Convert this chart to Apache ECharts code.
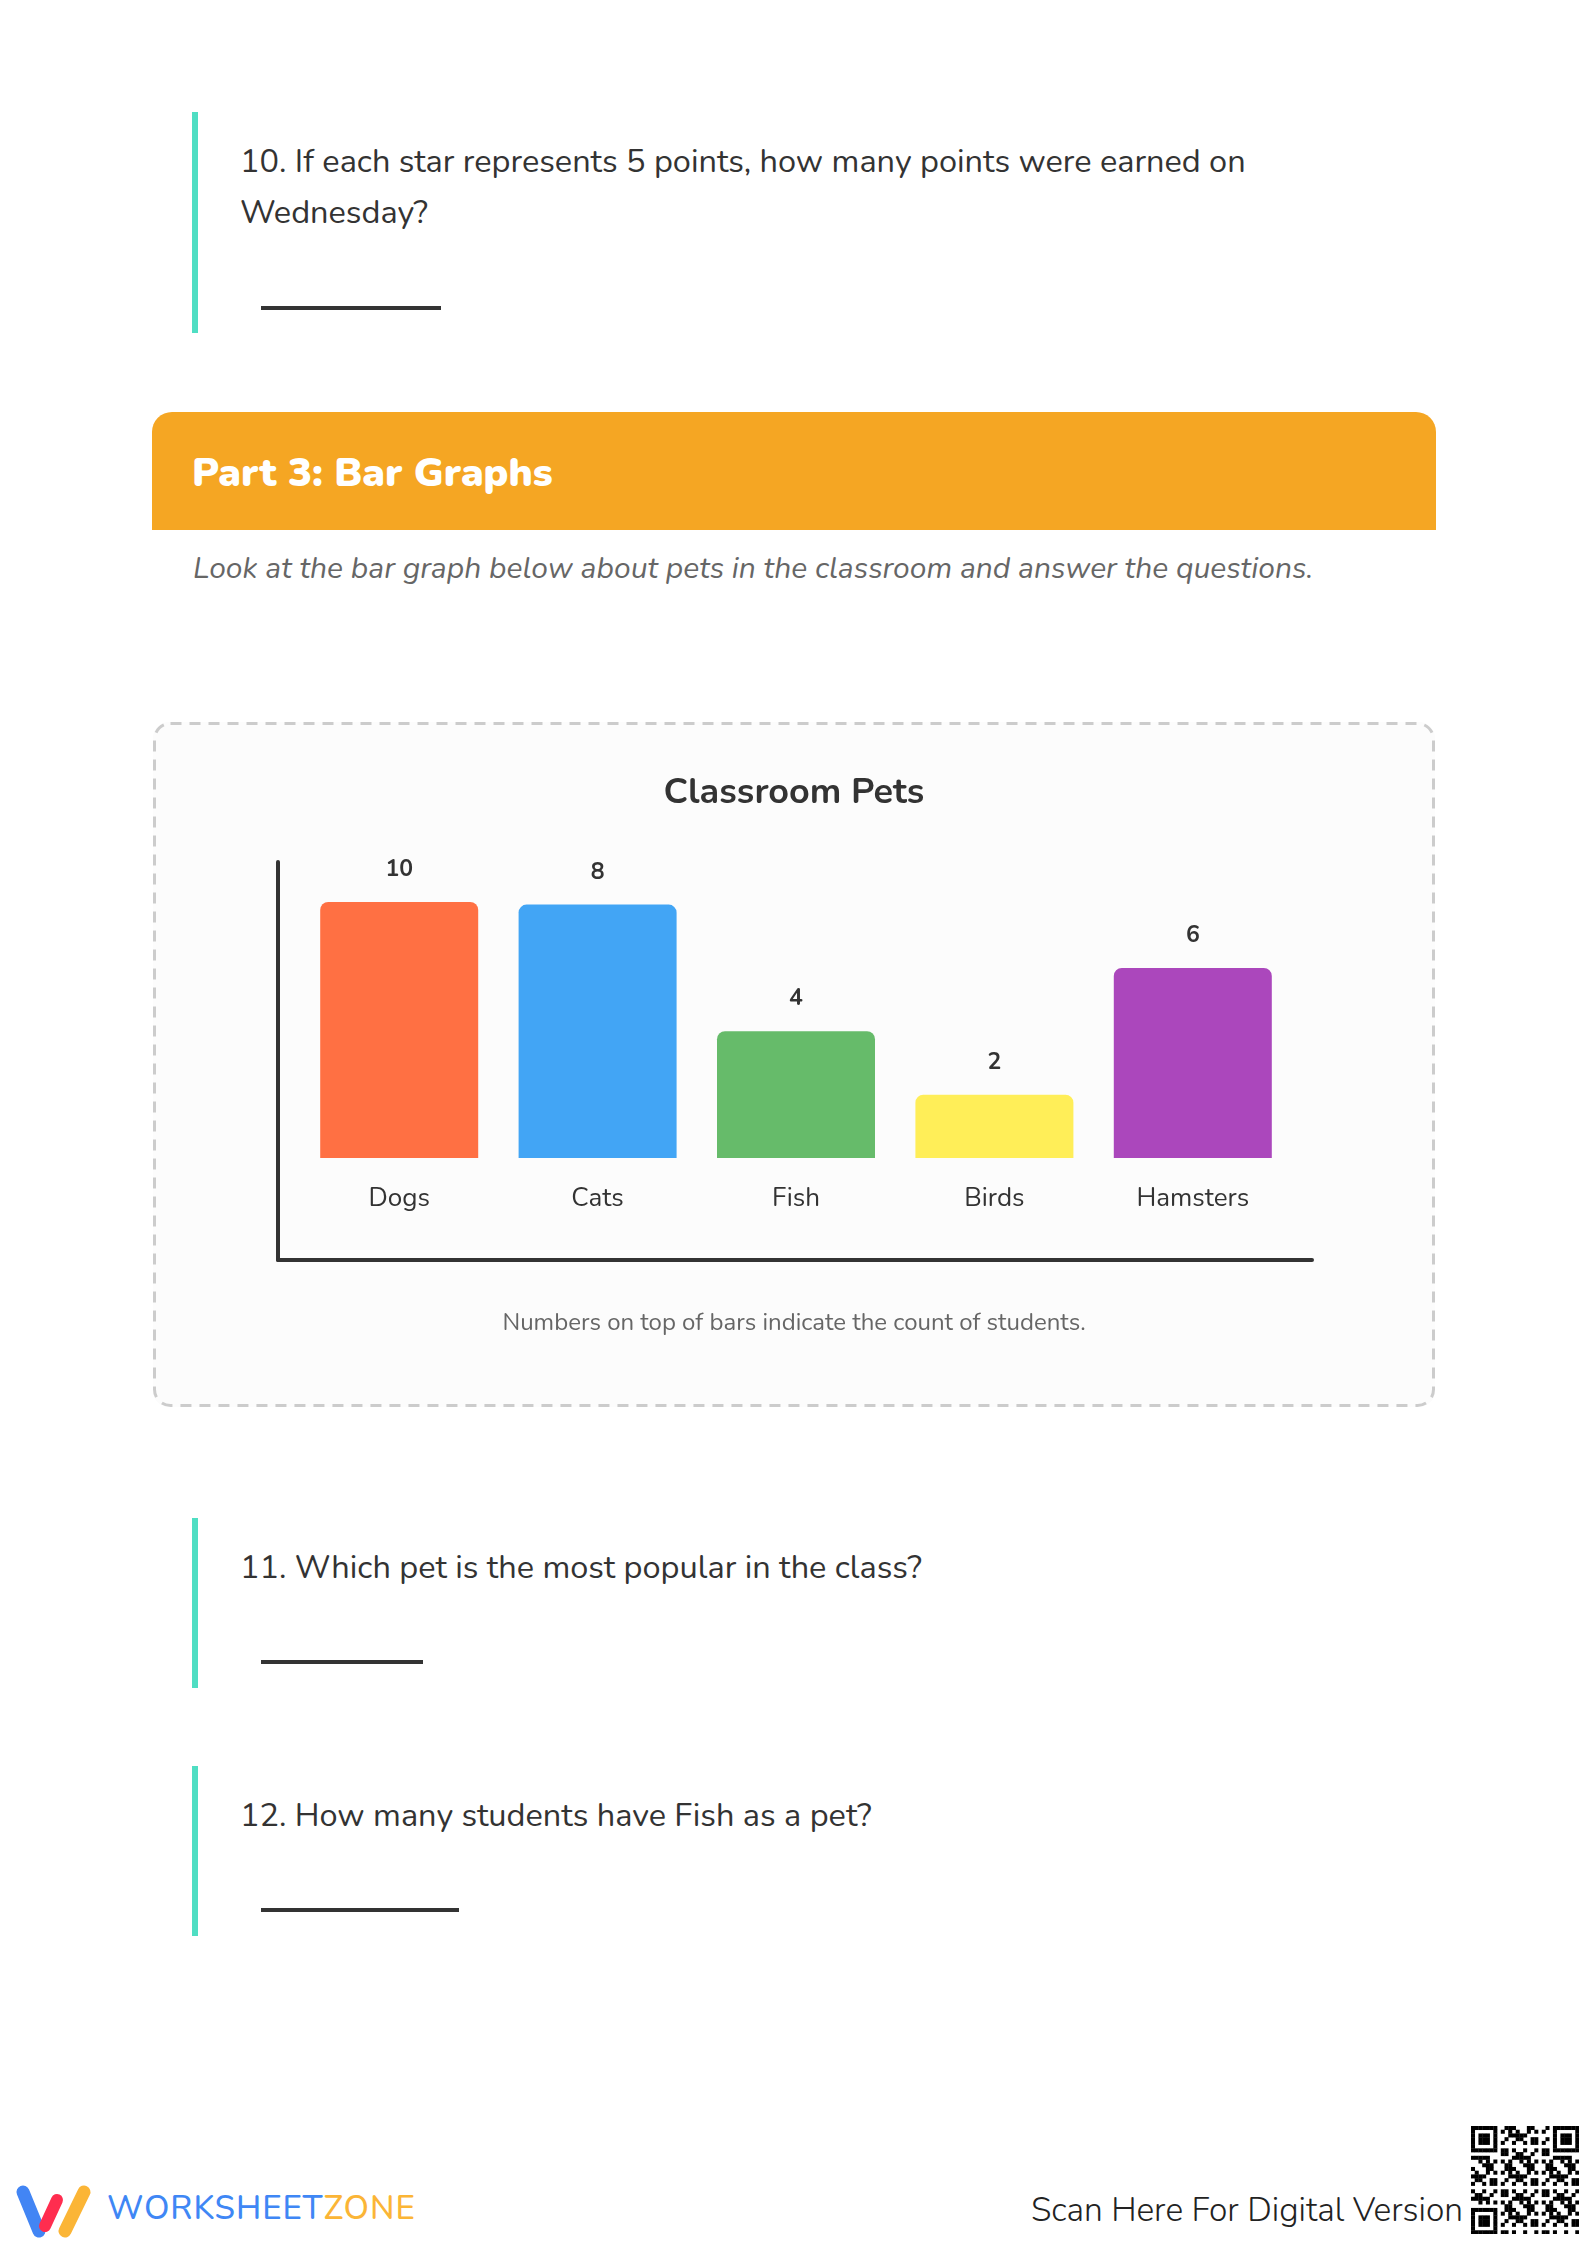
<!DOCTYPE html>
<html>
<head>
<meta charset="utf-8">
<title>Part 3: Bar Graphs</title>
<script src="https://cdn.jsdelivr.net/npm/echarts@6/dist/echarts.min.js"></script>
<style>
  html, body { margin: 0; padding: 0; background: #fff; }
  body {
    width: 1588px; height: 2244px; position: relative; overflow: hidden;
    font-family: Nunito, Lato, sans-serif; color: #333;
  }
  .q { position: absolute; left: 192px; width: 1240px; border-left: 6px solid #4fdec3; }
  .q p { position: absolute; left: 42px; top: 24px; margin: 0; font-size: 32.5px; line-height: 51px; width: 1060px; }
  .ans { position: absolute; left: 63px; height: 4px; background: #333; }
  #head {
    position: absolute; left: 152px; top: 412px; width: 1284px; height: 118px;
    background: #f5a623; border-radius: 20px 20px 0 0;
  }
  #head span {
    position: absolute; left: 40px; top: 39px; line-height: 44px;
    font-size: 40px; font-weight: 900; color: #fff;
  }
  #sub {
    position: absolute; left: 193px; top: 549px; line-height: 40px;
    font-size: 30px; font-style: italic; color: #666;
  }
  #box {
    position: absolute; left: 153px; top: 722px; width: 1282px; height: 685px;
    border-radius: 16px; background: #fcfcfc;
  }
  #frame { position: absolute; left: 0; top: 0; }
  #chart { position: absolute; left: 3px; top: 3px; width: 1276px; height: 679px; }
  #brand {
    position: absolute; left: 107px; top: 2189px; line-height: 40px;
    font-size: 33px; font-weight: 500; letter-spacing: 1px; color: #3f87f5;
  }
  #brand b { font-weight: 500; color: #fbb536; }
  #scan {
    position: absolute; right: 125px; top: 2190px; line-height: 40px;
    font-size: 33.5px; font-weight: 300; color: #222;
  }
  #logo { position: absolute; left: 0; top: 2170px; }
  #qr { position: absolute; left: 1471px; top: 2126px; }
</style>
</head>
<body>

<div class="q" style="top:112px;height:221px;">
  <p>10. If each star represents 5 points, how many points were earned on Wednesday?</p>
  <div class="ans" style="top:194px;width:180px;"></div>
</div>

<div id="head"><span>Part 3: Bar Graphs</span></div>
<div id="sub">Look at the bar graph below about pets in the classroom and answer the questions.</div>

<div id="box">
  <svg id="frame" width="1282" height="685">
    <rect x="1.5" y="1.5" width="1279" height="682" rx="16" ry="16" fill="none"
          stroke="#cccccc" stroke-width="3" stroke-dasharray="11 8"/>
  </svg>
  <div id="chart"></div>
</div>

<div class="q" style="top:1518px;height:170px;">
  <p>11. Which pet is the most popular in the class?</p>
  <div class="ans" style="top:142px;width:162px;"></div>
</div>

<div class="q" style="top:1766px;height:170px;">
  <p>12. How many students have Fish as a pet?</p>
  <div class="ans" style="top:142px;width:198px;"></div>
</div>

<svg id="logo" width="100" height="70">
  <line x1="23" y1="22" x2="39" y2="61" stroke="#4285f4" stroke-width="13" stroke-linecap="round"/>
  <line x1="57" y1="30" x2="45" y2="56" stroke="#ff2d4f" stroke-width="12" stroke-linecap="round"/>
  <line x1="84" y1="22" x2="65" y2="61" stroke="#fbb536" stroke-width="13" stroke-linecap="round"/>
</svg>
<div id="brand">WORKSHEET<b>ZONE</b></div>
<div id="scan">Scan Here For Digital Version</div>
<svg id="qr" width="108" height="108"></svg>

<script>
// chart values
var pets = ['Dogs', 'Cats', 'Fish', 'Birds', 'Hamsters'];
var students = [10, 8, 4, 2, 6];
var barColors = ['#ff7043', '#42a5f5', '#66bb6a', '#ffee58', '#ab47bc'];

var chartTitle = 'Classroom Pets';
var caption = 'Numbers on top of bars indicate the count of students.';

var font = 'Nunito, Lato, sans-serif';

var myChart = echarts.init(document.getElementById('chart'));

var option = {
  animation: false,
  textStyle: { fontFamily: font },
  title: [{
    text: chartTitle,
    left: 'center',
    top: 46,
    textStyle: { fontSize: 36, fontWeight: 'bold', color: '#333', fontFamily: font }
  }, {
    text: caption,
    left: 'center',
    top: 582,
    textStyle: { fontSize: 24, fontWeight: 'normal', color: '#666', fontFamily: font }
  }],
  grid: [
    { left: 144, top: 177, width: 992, height: 256 },   // bars
    { left: 122, top: 137, width: 1034, height: 398 }   // the L shaped frame
  ],
  xAxis: [{
    type: 'category',
    gridIndex: 0,
    data: pets,
    axisLine: { show: false },
    axisTick: { show: false },
    axisLabel: { fontSize: 26, color: '#333', margin: 29, fontFamily: font }
  }, {
    type: 'value',
    gridIndex: 1,
    min: 0, max: 1,
    axisLine: { show: true, onZero: false, lineStyle: { color: '#333', width: 4 } },
    axisTick: { show: false },
    axisLabel: { show: false },
    splitLine: { show: false }
  }],
  yAxis: [{
    type: 'value',
    gridIndex: 0,
    min: 0,
    max: 8.08,
    show: false
  }, {
    type: 'value',
    gridIndex: 1,
    min: 0, max: 1,
    axisLine: { show: true, onZero: false, lineStyle: { color: '#333', width: 4 } },
    axisTick: { show: false },
    axisLabel: { show: false },
    splitLine: { show: false }
  }],
  series: [{
    type: 'bar',
    xAxisIndex: 0,
    yAxisIndex: 0,
    barWidth: 158,
    clip: true,
    label: {
      show: true,
      position: 'top',
      distance: 20,
      fontSize: 23,
      fontWeight: 'bold',
      color: '#333',
      fontFamily: font
    },
    data: students.map(function (v, i) {
      return { value: v, itemStyle: { color: barColors[i], borderRadius: [8, 8, 0, 0] } };
    })
  }]
};

myChart.setOption(option);

// qr-like decoration
(function () {
  var svg = document.getElementById('qr');
  var n = 29, s = 108 / n;
  var out = '';
  function cell(x, y) {
    out += '<rect x="' + (x * s) + '" y="' + (y * s) + '" width="' + (s + 0.3) + '" height="' + (s + 0.3) + '" fill="#000"/>';
  }
  function finder(cx, cy) {
    for (var y = 0; y < 7; y++) {
      for (var x = 0; x < 7; x++) {
        var ring = Math.max(Math.abs(x - 3), Math.abs(y - 3));
        if (ring !== 2) cell(cx + x, cy + y);
      }
    }
  }
  for (var y = 0; y < n; y++) {
    for (var x = 0; x < n; x++) {
      var inF = (x < 8 && y < 8) || (x > n - 9 && y < 8) || (x < 8 && y > n - 9);
      if (inF) continue;
      if ((x * 31 + y * 17 + x * y * 7) % 11 < 5) cell(x, y);
    }
  }
  finder(0, 0); finder(n - 7, 0); finder(0, n - 7);
  svg.innerHTML = out;
})();
</script>
</body>
</html>
